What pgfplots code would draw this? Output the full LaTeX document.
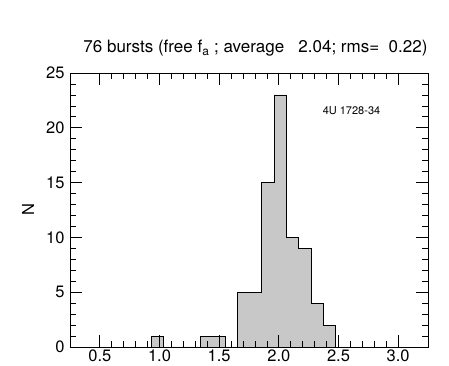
\documentclass[border=0pt]{standalone}
\usepackage{fontspec}
\setmainfont{TeX Gyre Heros}
\usepackage{pgfplots}
\pgfplotsset{compat=1.18}
\definecolor{histfill}{RGB}{200,200,200}
\begin{document}
\begin{tikzpicture}[x=1pt,y=1pt]
\clip (-70,-19) rectangle (379,347);
\begin{axis}[
  at={(0,0)}, anchor=south west,
  scale only axis, width=358pt, height=274pt,
  xmin=0.25, xmax=3.25, ymin=0, ymax=25,
  xtick={0.5,1.0,...,3.0}, minor x tick num=4,
  ytick={0,5,...,25}, minor y tick num=4,
  tick align=inside,
  major tick length=12pt, minor tick length=6pt,
  tick style={black, line width=0.7pt},
  axis line style={line width=0.8pt},
  axis on top,
  /pgf/number format/assume math mode=true,
  ticklabel style={font=\fontsize{16.5}{19}\selectfont},
  xticklabel style={inner sep=1pt, yshift=-2pt, /pgf/number format/.cd, fixed, fixed zerofill, precision=1},
  yticklabel style={xshift=-2pt},
  ylabel={N},
  ylabel style={at={(axis description cs:-0.117,0.5)}, anchor=center, font=\fontsize{16.5}{19}\selectfont},
  title={76 bursts (free f\textsubscript{a} ; average \ \ 2.04; rms= \ 0.22)},
  title style={at={(axis description cs:0.518,1)}, anchor=base, yshift=14pt, font=\fontsize{17}{20}\selectfont},
]
\addplot[const plot, fill=histfill, draw=black, line width=0.7pt] table {
x     y
0.930 1
1.033 0
1.136 0
1.239 0
1.342 1
1.445 1
1.548 0
1.651 5
1.754 5
1.857 15
1.960 23
2.063 10
2.166 9
2.269 4
2.372 2
2.475 0
} \closedcycle;
\node[font=\fontsize{11}{13}\selectfont] at (axis cs:2.609,21.6) {4U 1728-34};
\end{axis}
\end{tikzpicture}
\end{document}
